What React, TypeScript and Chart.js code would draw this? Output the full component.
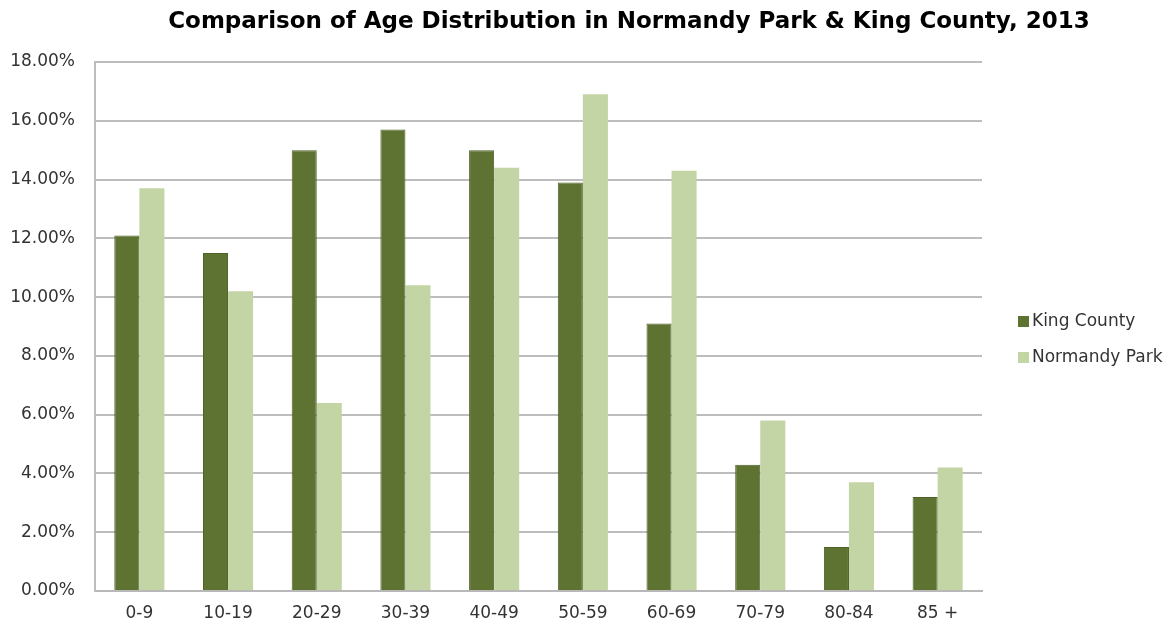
import React, { useEffect, useRef } from "react";
import { Chart, registerables } from "chart.js";

Chart.register(...registerables);

const TITLE = "Comparison of Age Distribution in Normandy Park & King County, 2013";
const categories = ["0-9", "10-19", "20-29", "30-39", "40-49", "50-59", "60-69", "70-79", "80-84", "85 +"];
const kingCounty = [12.1, 11.5, 15.0, 15.7, 15.0, 13.9, 9.1, 4.3, 1.5, 3.2];
const normandyPark = [13.7, 10.2, 6.4, 10.4, 14.4, 16.9, 14.3, 5.8, 3.7, 4.2];
const seriesLabels = ["King County", "Normandy Park"];
const seriesColors = ["#5e7232", "#c4d5a5"];
const seriesBorders = ["#4e6127", "#c4d5a5"];

const FONT = "'DejaVu Sans', Verdana, sans-serif";

const overlayPlugin = {
  id: "overlay",
  afterDraw(chart: any) {
    const ctx = chart.ctx;
    ctx.save();
    // title
    ctx.fillStyle = "#000";
    ctx.font = `bold 23px ${FONT}`;
    ctx.textAlign = "center";
    ctx.textBaseline = "middle";
    ctx.fillText(TITLE, 629, 22);
    // legend
    ctx.font = `17px ${FONT}`;
    ctx.textAlign = "left";
    chart.data.datasets.forEach((ds: any, i: number) => {
      const y = 321 + i * 36;
      ctx.fillStyle = ds.backgroundColor;
      ctx.fillRect(1018, y - 5, 11, 11);
      ctx.fillStyle = "#333";
      ctx.fillText(ds.label, 1032, y + 1);
    });
    ctx.restore();
  },
};

export default function App() {
  const ref = useRef<HTMLCanvasElement>(null);
  useEffect(() => {
    if (!ref.current) return;
    const chart = new Chart(ref.current, {
      type: "bar",
      data: {
        labels: categories,
        datasets: [
          {
            label: seriesLabels[0],
            data: kingCounty,
            backgroundColor: seriesColors[0],
            borderColor: seriesBorders[0],
            borderWidth: 1,
          },
          {
            label: seriesLabels[1],
            data: normandyPark,
            backgroundColor: seriesColors[1],
            borderColor: seriesBorders[1],
            borderWidth: 0,
          },
        ],
      },
      options: {
        animation: false,
        responsive: false,
        maintainAspectRatio: false,
        layout: { padding: { top: 62, right: 192, left: 0, bottom: 0 } },
        plugins: {
          legend: { display: false },
          title: { display: false },
          tooltip: { enabled: false },
        },
        datasets: {
          bar: { categoryPercentage: 0.565, barPercentage: 1 },
        },
        scales: {
          x: {
            grid: { display: false, drawTicks: false },
            border: { display: true, color: "#b8b8b8", width: 2 },
            ticks: { color: "#333", font: { family: FONT, size: 17 }, padding: 12 },
            afterFit: (s: any) => {
              s.height = 34;
            },
          },
          y: {
            min: 0,
            max: 18,
            ticks: {
              stepSize: 2,
              color: "#333",
              font: { family: FONT, size: 17 },
              padding: 20,
              callback: (v: any) => Number(v).toFixed(2) + "%",
            },
            grid: { color: "#bdbdbd", lineWidth: 2, drawTicks: false },
            border: { display: true, color: "#bdbdbd", width: 2 },
            afterFit: (s: any) => {
              s.width = 95;
            },
          },
        },
      },
      plugins: [overlayPlugin],
    });
    return () => chart.destroy();
  }, []);
  return (
    <div style={{ position: "fixed", left: 0, top: 0, width: 1174, height: 625, background: "#fff" }}>
      <canvas ref={ref} width={1174} height={625} style={{ width: 1174, height: 625 }} />
    </div>
  );
}
